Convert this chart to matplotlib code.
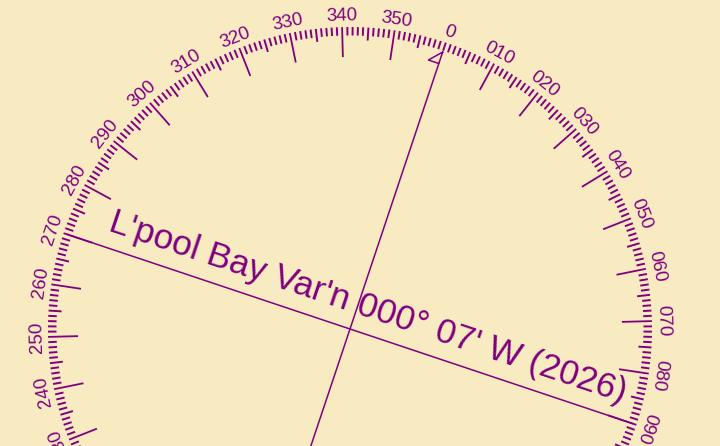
import numpy as np
import matplotlib
matplotlib.use('Agg')
import matplotlib.pyplot as plt

bg = '#f9ebc1'
ink = '#800080'

rot_deg = 18.5  # rose turned clockwise by this much
major_deg = np.arange(0, 360, 10)
major_lab = ['0'] + ['%03d' % d for d in major_deg[1:]]
half_deg = np.arange(5, 360, 10)
minor_deg = np.array([d for d in range(360) if d % 5 != 0] + [0])
var_text = "L'pool Bay Var'n 000\u00b0 07' W (2026)"

W, H = 720, 446
cx, cy = 350, 329   # centre of rose in pixels (from top-left)
R = 302
rmax = 330

fig = plt.figure(figsize=(W / 100, H / 100), dpi=100)
fig.patch.set_facecolor(bg)
ax = fig.add_axes([(cx - rmax) / W, (H - cy - rmax) / H, 2 * rmax / W, 2 * rmax / H],
                  projection='polar')
ax.set_theta_zero_location('N', offset=-rot_deg)
ax.set_theta_direction(-1)
ax.set_ylim(0, rmax)
ax.axis('off')

# graduations
ax.vlines(np.radians(minor_deg), R - 8.5, R, colors=ink, lw=1.4)
ax.vlines(np.radians(half_deg), R - 13, R, colors=ink, lw=1.4)
ax.vlines(np.radians(major_deg[1:]), R - 30, R, colors=ink, lw=1.3)

for d, lab in zip(major_deg, major_lab):
    ax.text(np.radians(d), 313, lab, rotation=-(d + rot_deg), rotation_mode='anchor',
            ha='center', va='center', fontsize=13.5, color=ink, family='Liberation Sans')

# north marker and cross lines
ax.plot(np.radians([0, 0, -2.25, 0]), [292, 280, 280.2, 292], color=ink, lw=1.1)
ax.plot(np.radians([0, 180]), [280, 302], color=ink, lw=1.1)
ax.plot(np.radians([270, 90]), [298, 298], color=ink, lw=1.1)

te, tn = 10, 16
ax.text(np.arctan2(te, tn), np.hypot(te, tn), var_text, rotation=-rot_deg,
        rotation_mode='anchor', ha='center', va='baseline', fontsize=25.3,
        color=ink, family='Liberation Sans')

fig.savefig('out.png', dpi=100, facecolor=bg)
